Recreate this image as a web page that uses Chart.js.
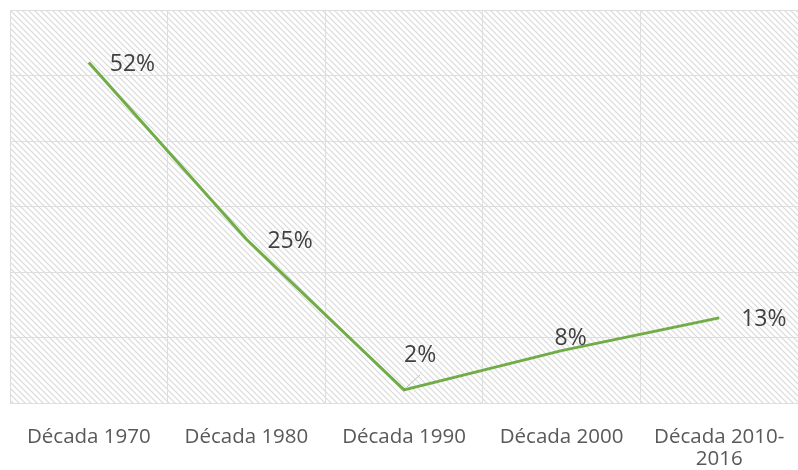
<!DOCTYPE html>
<html>
<head>
<meta charset="utf-8">
<script src="https://cdn.jsdelivr.net/npm/chart.js@4"></script>
<style>
  body { margin: 0; background: #fff; }
  #wrap { width: 798px; height: 470px; }
</style>
</head>
<body>
<div id="wrap"><canvas id="myChart" width="798" height="470"></canvas></div>
<script>
let decadas = ["Década 1970", "Década 1980", "Década 1990", "Década 2000", ["Década 2010-", "2016"]];
let porcentajes = [52, 25, 2, 8, 13];
let etiquetas = ["52%", "25%", "2%", "8%", "13%"];

// where each label sits relative to its point
let labelPos = [
  { dx: 21, dy: 2, align: "left" },
  { dx: 21, dy: 2, align: "left" },
  { dx: 0, dy: -34, align: "left", leader: true },
  { dx: 9, dy: -12, align: "center" },
  { dx: 22, dy: 2, align: "left" },
];

function makeHatch() {
  let c = document.createElement("canvas");
  c.width = 6;
  c.height = 6;
  let g = c.getContext("2d");
  g.fillStyle = "#ffffff";
  g.fillRect(0, 0, 6, 6);
  g.strokeStyle = "#d9d9d9";
  g.lineWidth = 1.2;
  g.beginPath();
  g.moveTo(-1, -1); g.lineTo(7, 7);
  g.moveTo(-4, 2); g.lineTo(4, 10);
  g.moveTo(2, -4); g.lineTo(10, 4);
  g.stroke();
  return g.createPattern(c, "repeat");
}

const hatchBg = {
  id: "hatchBg",
  beforeDraw(chart) {
    let a = chart.chartArea;
    let ctx = chart.ctx;
    ctx.save();
    ctx.fillStyle = makeHatch();
    ctx.fillRect(a.left, a.top, a.right - a.left, a.bottom - a.top);
    ctx.restore();
  },
};

const pointLabels = {
  id: "pointLabels",
  afterDatasetsDraw(chart) {
    let ctx = chart.ctx;
    let meta = chart.getDatasetMeta(0);
    ctx.save();
    ctx.font = "23px 'Open Sans'";
    ctx.fillStyle = "#404040";
    ctx.textBaseline = "middle";
    meta.data.forEach((pt, i) => {
      let p = labelPos[i];
      if (p.leader) {
        ctx.strokeStyle = "#bfbfbf";
        ctx.lineWidth = 1;
        ctx.beginPath();
        ctx.moveTo(pt.x + 3, pt.y - 3);
        ctx.lineTo(pt.x + 16, pt.y - 15);
        ctx.stroke();
      }
      ctx.textAlign = p.align;
      ctx.fillText(etiquetas[i], pt.x + p.dx, pt.y + p.dy);
    });
    ctx.restore();
  },
};

let chart = new Chart(document.getElementById("myChart").getContext("2d"), {
  type: "line",
  data: {
    labels: decadas,
    datasets: [
      {
        data: porcentajes,
        borderColor: "#70ad47",
        borderWidth: 3,
        pointRadius: 0,
        tension: 0,
        fill: false,
      },
    ],
  },
  options: {
    responsive: false,
    animation: false,
    layout: { padding: { left: 10, top: 10, right: 0, bottom: 0 } },
    plugins: {
      legend: { display: false },
      tooltip: { enabled: false },
    },
    scales: {
      x: {
        offset: true,
        grid: { offset: true, color: "#dedede", drawTicks: false },
        border: { display: false },
        ticks: {
          color: "#595959",
          font: { family: "'Open Sans'", size: 20.5, lineHeight: 1.07 },
          padding: 23,
          maxRotation: 0,
          autoSkip: false,
        },
        afterFit(scale) {
          scale.height = 67;
          scale.paddingLeft = 0;
          scale.paddingRight = 0;
        },
      },
      y: {
        min: 0,
        max: 60,
        ticks: { display: false, stepSize: 10 },
        grid: { color: "#dedede", drawTicks: false },
        border: { display: false },
      },
    },
  },
  plugins: [hatchBg, pointLabels],
});
</script>
</body>
</html>
